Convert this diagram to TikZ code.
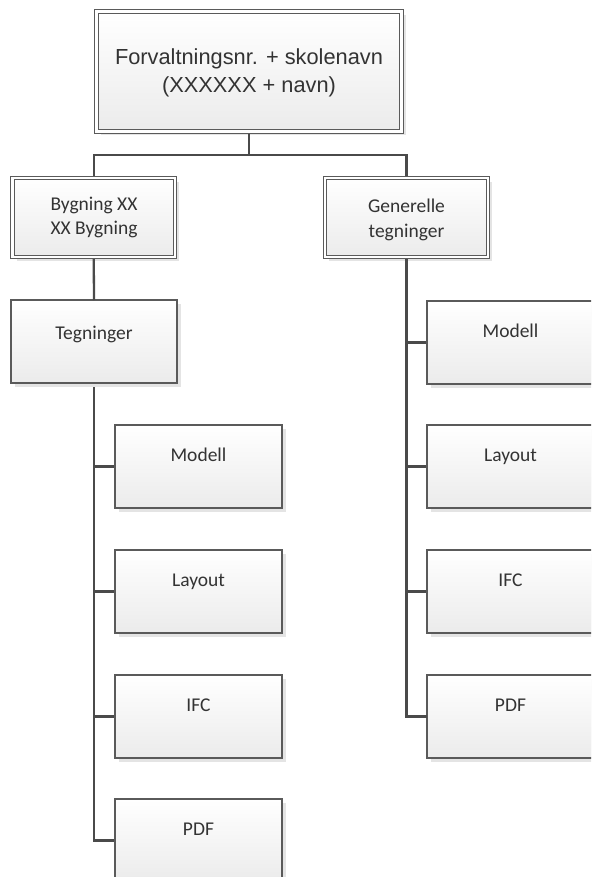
\documentclass[tikz,border=0pt]{standalone}
\usepackage{fontspec}
\setmainfont{Carlito}
\newfontfamily\arialf{Liberation Sans}
\usetikzlibrary{shadows,backgrounds}
\definecolor{boxline}{HTML}{5A5A5A}
\definecolor{conn}{HTML}{4A4A4A}
\definecolor{txt}{HTML}{333333}
\definecolor{shadecol}{HTML}{E4E4E4}
\definecolor{bfill}{HTML}{EBEBEB}
\tikzset{
  box/.style={draw=boxline, line width=1.2pt, top color=white, bottom color=bfill,
    minimum width=167pt, minimum height=83pt, inner sep=0pt, outer sep=0pt,
    drop shadow={shadow xshift=4pt, shadow yshift=-4pt, fill=shadecol, opacity=1}},
  dbox/.style={box, double=white, double distance=2.4pt, line width=1.1pt},
  lbl/.style={anchor=base, inner sep=0pt, text=txt, font=\fontsize{19.5}{23}\selectfont},
  toplbl/.style={anchor=base, inner sep=0pt, text=txt, font=\arialf\fontsize{21.8}{26}\selectfont},
  conn/.style={draw=conn, line width=2.3pt},
}
\begin{document}
\begin{tikzpicture}[x=1pt, y=-1pt]
\useasboundingbox (0,0) rectangle (591,877);
\clip (0,0) rectangle (591,877);

% top
\node[dbox, minimum width=305pt, minimum height=120pt] (top) at (249,71.5) {};
\node[toplbl] (topa) at (249,65) {Forvaltningsnr. + skolenavn};
\node[toplbl] (topb) at (249,93) {(XXXXXX + navn)};

% level 2
\node[dbox, minimum width=162.5pt, minimum height=79pt] (byg) at (93.75,217.5) {};
\node[lbl] (byga) at (94,211) {Bygning XX};
\node[lbl] (bygb) at (94,235) {XX Bygning};
\node[dbox, minimum width=163pt, minimum height=79pt] (gen) at (406.5,217.5) {};
\node[lbl] (gena) at (406.5,213) {Generelle};
\node[lbl] (genb) at (406.5,237) {tegninger};

% Tegninger
\node[box, minimum width=166pt] (teg) at (94,341.5) {};
\node[lbl] (tegt) at (94,339) {Tegninger};

% left children
\node[box] (lmod) at (198.5,466.5) {};
\node[lbl] (lmodt) at (198.5,461) {Modell};
\node[box] (llay) at (198.5,591.5) {};
\node[lbl] (llayt) at (198.5,586) {Layout};
\node[box] (lifc) at (198.5,716.5) {};
\node[lbl] (lifct) at (198.5,711) {IFC};
\node[box] (lpdf) at (198.5,840.5) {};
\node[lbl] (lpdft) at (198.5,835) {PDF};

% right children
\node[box] (rmod) at (510.5,342.5) {};
\node[lbl] (rmodt) at (510.5,337) {Modell};
\node[box] (rlay) at (510.5,466.5) {};
\node[lbl] (rlayt) at (510.5,461) {Layout};
\node[box] (rifc) at (510.5,591.5) {};
\node[lbl] (rifct) at (510.5,586) {IFC};
\node[box] (rpdf) at (510.5,716.5) {};
\node[lbl] (rpdft) at (510.5,711) {PDF};

\begin{scope}[on background layer]
\fill[white] (0,0) rectangle (591,877);
\coordinate (bus) at (249,155);
\draw[conn] (bus) -| (byg.north);
\draw[conn] (bus) -| (gen.north);
\draw[conn] (teg.north) -- ++(0,-10);
\draw[conn] (teg.south) |- (lpdf.west);
\draw[conn] (teg.south) |- (lmod.west);
\draw[conn] (teg.south) |- (llay.west);
\draw[conn] (teg.south) |- (lifc.west);
\draw[conn] (gen.south) |- (rmod.west);
\draw[conn] (gen.south) |- (rlay.west);
\draw[conn] (gen.south) |- (rifc.west);
\end{scope}
% connectors that pass over drop shadows
\draw[conn] ([yshift=-2.2pt]top.south) -- (bus);
\draw[conn] ([yshift=-2.2pt]byg.south) -- (teg.north);
\draw[conn] ([yshift=-2.2pt]gen.south) |- (rpdf.west);
\end{tikzpicture}
\end{document}
